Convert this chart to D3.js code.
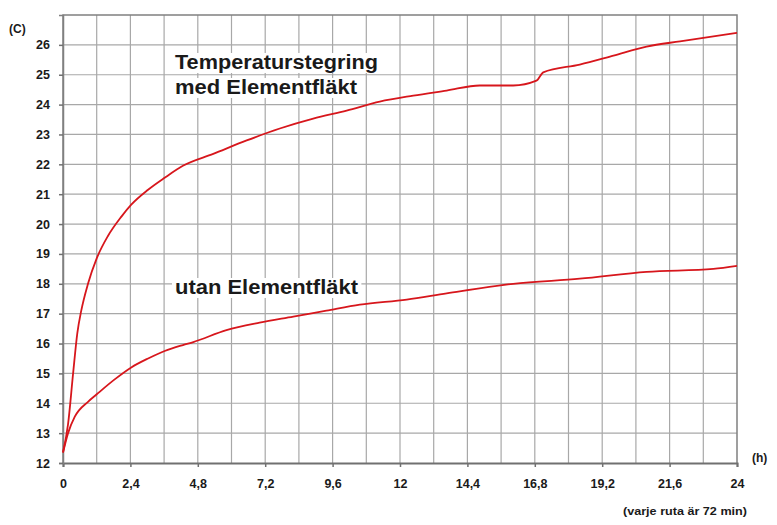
<!DOCTYPE html>
<html>
<head>
<meta charset="utf-8">
<script src="https://cdn.jsdelivr.net/npm/d3@7"></script>
<style>
  body { margin: 0; background: #fff; }
  text { font-family: "Liberation Sans", Arial, sans-serif; fill: #1a1a1a; }
</style>
</head>
<body>
<script>
// Data (hours, degrees C)
var hoursWith = [0, 0.18, 0.36, 0.51, 0.65, 0.89, 1.2, 1.6, 2.08, 2.43, 3.03, 3.62, 4.27, 5.35, 6.54, 7.72, 8.91, 10.1, 11.28, 12.47, 13.66, 14.84, 16.03, 16.86, 17.1, 18.4, 19.6, 20.78, 21.97, 24];
var tempWith = [12.35, 13.3, 15.0, 16.35, 17.1, 18.0, 18.85, 19.6, 20.25, 20.65, 21.15, 21.55, 21.95, 22.35, 22.8, 23.2, 23.53, 23.8, 24.1, 24.3, 24.47, 24.64, 24.64, 24.8, 25.08, 25.34, 25.64, 25.94, 26.12, 26.4];

var hoursWithout = [0, 0.18, 0.42, 0.89, 1.2, 1.84, 2.43, 3.03, 3.62, 4.27, 4.64, 5.82, 7.0, 8.2, 9.38, 10.57, 12.24, 13.66, 16.03, 18.4, 20.78, 23.16, 24];
var tempWithout = [12.35, 13.0, 13.55, 14.05, 14.3, 14.8, 15.2, 15.5, 15.75, 15.95, 16.05, 16.45, 16.7, 16.9, 17.1, 17.3, 17.47, 17.68, 18.0, 18.17, 18.4, 18.5, 18.6];

var xTickLabels = [0, 2.4, 4.8, 7.2, 9.6, 12, 14.4, 16.8, 19.2, 21.6, 24];
var yTickLabels = [12, 13, 14, 15, 16, 17, 18, 19, 20, 21, 22, 23, 24, 25, 26];

var svgWidth = 777;
var svgHeight = 525;

var margin = { top: 15, right: 40, bottom: 62, left: 63 };
var width = 737 - margin.left;
var height = 463 - margin.top;

var svg = d3.select("body")
  .append("svg")
  .attr("width", svgWidth)
  .attr("height", svgHeight);

var chartGroup = svg.append("g")
  .attr("transform", `translate(${margin.left}, ${margin.top})`);

var xScale = d3.scaleLinear().domain([0, 24]).range([0, width]);
var yScale = d3.scaleLinear().domain([12, 27]).range([height, 0]);

// grid: every square is 72 min (1.2 h) by 1 degree
var gridX = d3.range(1, 20).map(i => i * 1.2);
var gridY = d3.range(13, 27);

chartGroup.append("g")
  .selectAll("line")
  .data(gridX)
  .enter().append("line")
    .attr("x1", d => xScale(d)).attr("x2", d => xScale(d))
    .attr("y1", 0).attr("y2", height)
    .attr("stroke", "#a8a8a8")
    .attr("stroke-width", 1.2);

chartGroup.append("g")
  .selectAll("line")
  .data(gridY)
  .enter().append("line")
    .attr("x1", 0).attr("x2", width)
    .attr("y1", d => yScale(d)).attr("y2", d => yScale(d))
    .attr("stroke", "#a8a8a8")
    .attr("stroke-width", 1.2);

// frame
chartGroup.append("path")
  .attr("d", `M0,${height}V0H${width}V${height}`)
  .attr("fill", "none")
  .attr("stroke", "#808080")
  .attr("stroke-width", 1.5);

// axes
var bottomAxis = d3.axisBottom(xScale)
  .tickValues(xTickLabels)
  .tickSize(4)
  .tickPadding(12)
  .tickFormat(d => String(d).replace(".", ","));

var leftAxis = d3.axisLeft(yScale)
  .tickValues(yTickLabels)
  .tickSize(4)
  .tickPadding(9)
  .tickFormat(d3.format("d"));

var xAxis = chartGroup.append("g")
  .attr("transform", `translate(0, ${height})`)
  .call(bottomAxis);

var yAxis = chartGroup.append("g")
  .call(leftAxis);

[xAxis, yAxis].forEach(function (ax) {
  ax.select(".domain").attr("stroke", "#707070").attr("stroke-width", 2);
  ax.selectAll(".tick line").attr("stroke", "#707070").attr("stroke-width", 1.5);
  ax.selectAll(".tick text")
    .attr("font-family", "Liberation Sans, Arial, sans-serif")
    .attr("font-size", 12.5)
    .attr("font-weight", "bold")
    .attr("fill", "#1a1a1a");
});
yAxis.select(".domain").attr("stroke", "#808080").attr("stroke-width", 1.5);

// curves
var line = d3.line()
  .x(d => xScale(d[0]))
  .y(d => yScale(d[1]))
  .curve(d3.curveMonotoneX);

var withFan = hoursWith.map((h, i) => [h, tempWith[i]]);
var withoutFan = hoursWithout.map((h, i) => [h, tempWithout[i]]);

[withFan, withoutFan].forEach(function (series) {
  chartGroup.append("path")
    .datum(series)
    .attr("d", line)
    .attr("fill", "none")
    .attr("stroke", "#d7161c")
    .attr("stroke-width", 1.8);
});

// labels with white background
function label(x, y, txt, len) {
  var t = svg.append("text")
    .attr("x", x).attr("y", y)
    .attr("font-size", 20)
    .attr("font-weight", "bold")
    .attr("textLength", len)
    .attr("lengthAdjust", "spacingAndGlyphs")
    .text(txt);
  var b = t.node().getBBox();
  svg.insert("rect", function () { return t.node(); })
    .attr("x", b.x - 3).attr("y", b.y + 2)
    .attr("width", b.width + 6).attr("height", b.height - 2)
    .attr("fill", "#fff");
}
label(175, 69, "Temperaturstegring", 203);
label(175, 94, "med Elementfläkt", 182);
label(175, 294, "utan Elementfläkt", 183);

svg.append("text")
  .attr("x", 9).attr("y", 33)
  .attr("font-size", 12)
  .attr("font-weight", "bold")
  .text("(C)");

svg.append("text")
  .attr("x", 752).attr("y", 462)
  .attr("font-size", 12)
  .attr("font-weight", "bold")
  .text("(h)");

svg.append("text")
  .attr("x", 623).attr("y", 515)
  .attr("font-size", 11)
  .attr("font-weight", "bold")
  .attr("textLength", 124)
  .attr("lengthAdjust", "spacingAndGlyphs")
  .text("(varje ruta är 72 min)");
</script>
</body>
</html>
